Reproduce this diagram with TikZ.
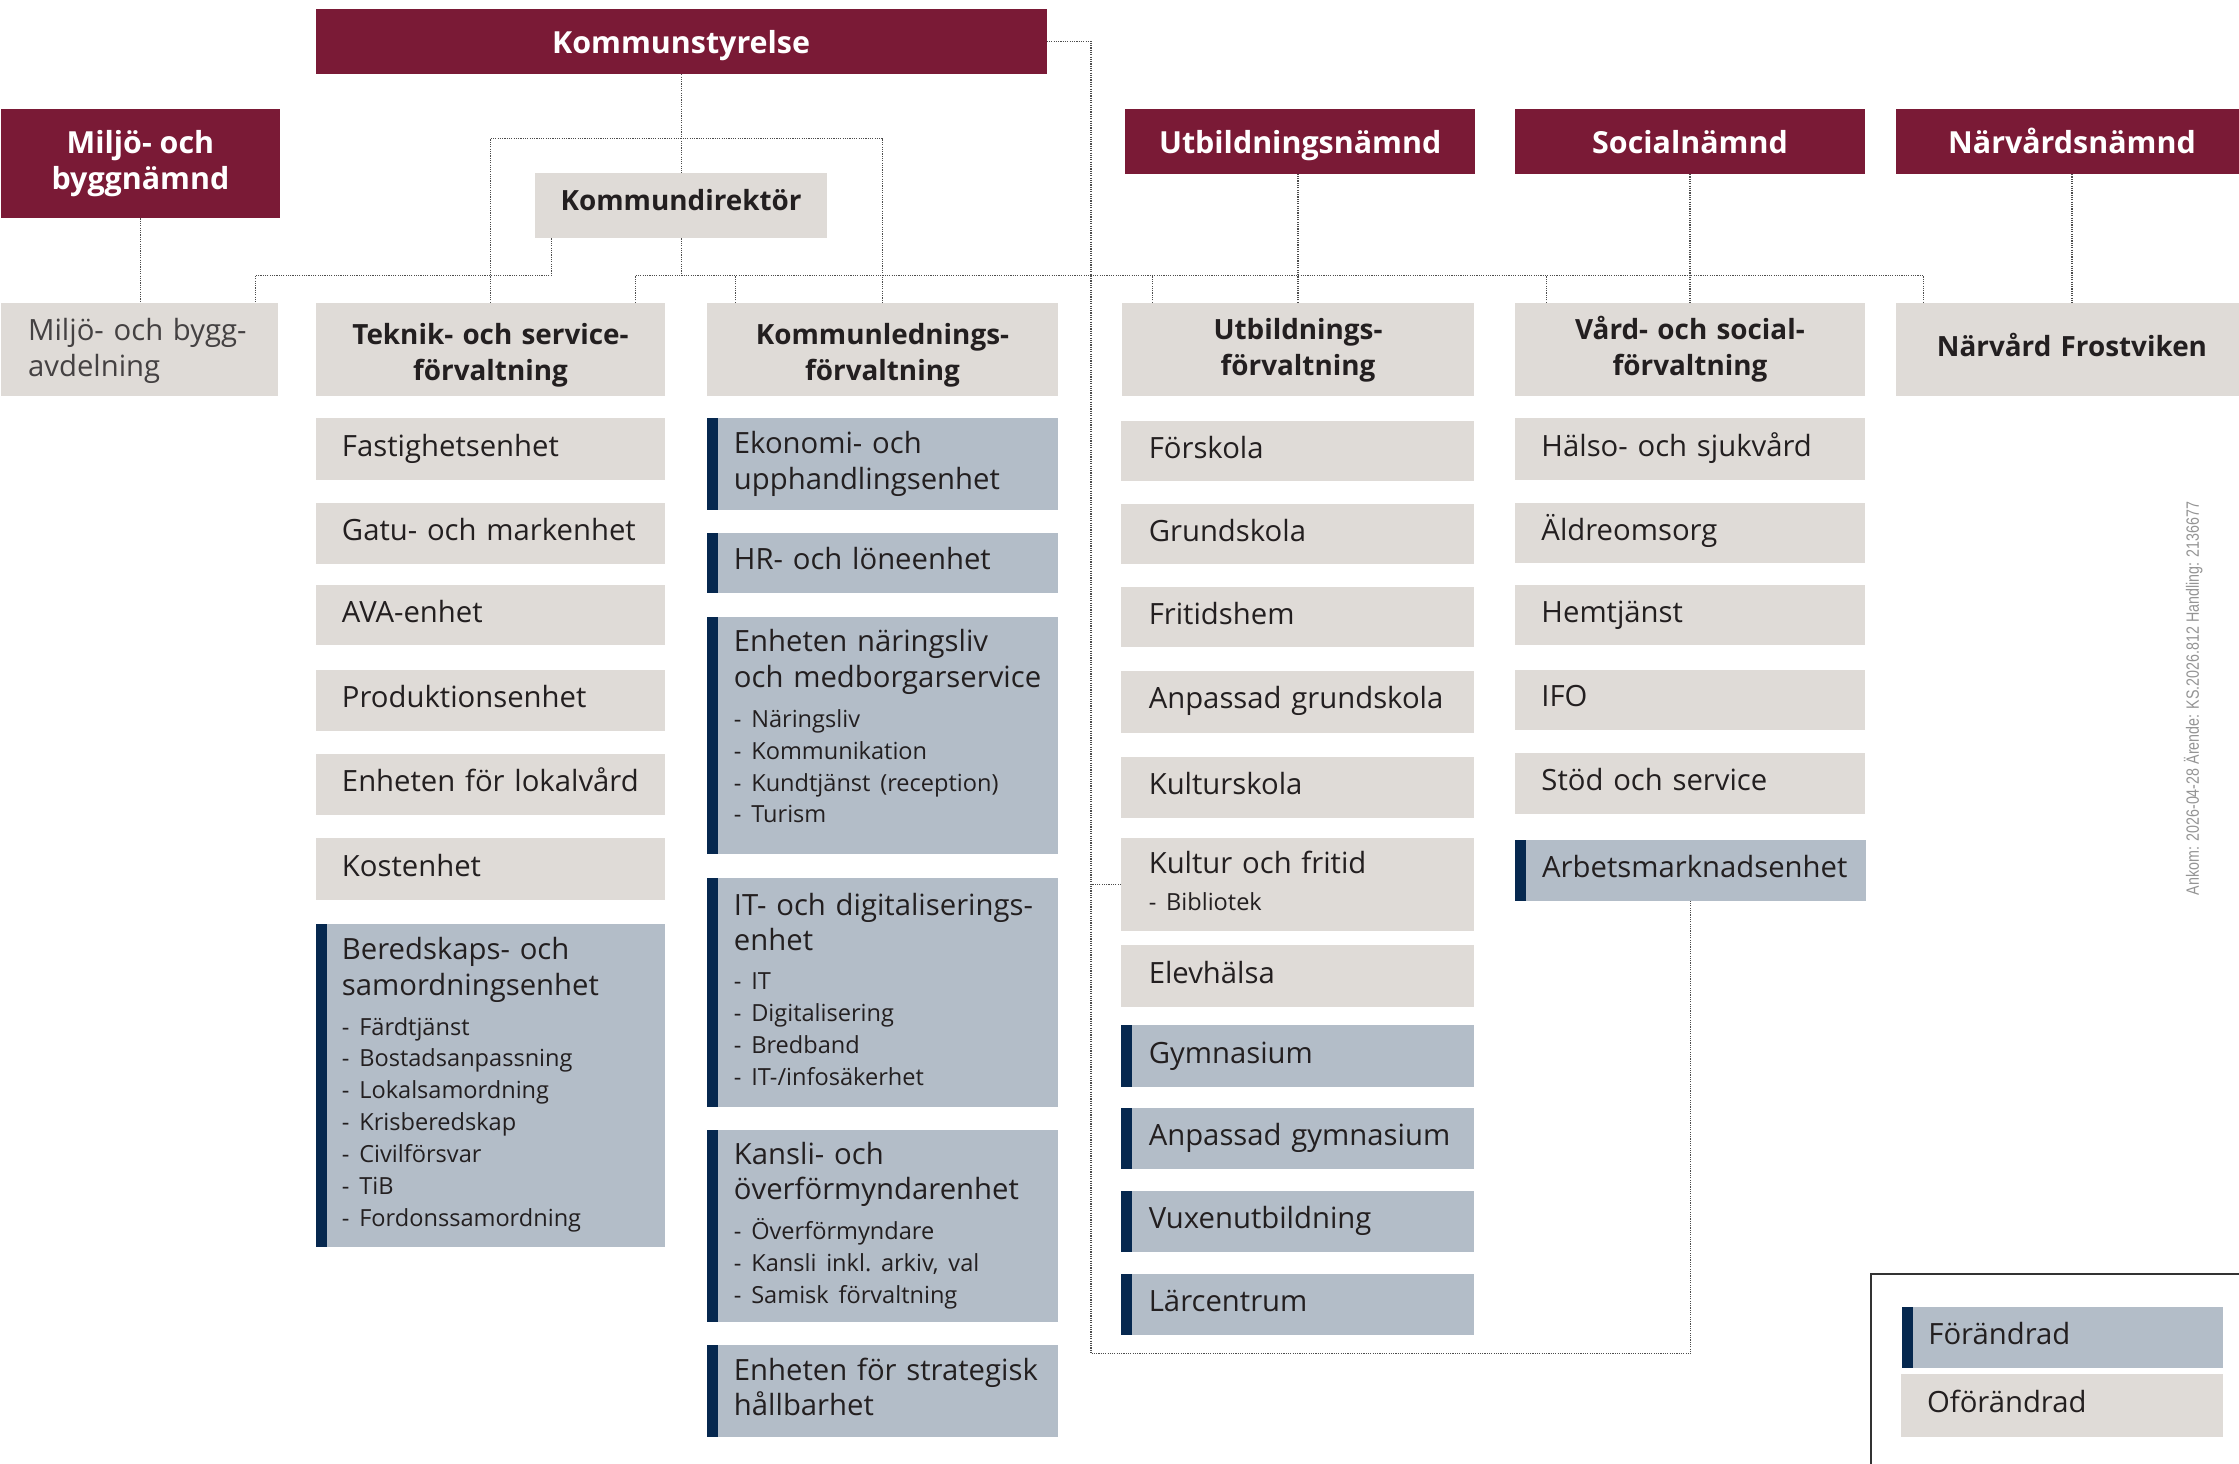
\documentclass[tikz,border=0pt]{standalone}
\usepackage{fontspec}
\setmainfont{Open Sans}
\newfontfamily\wmfont[FakeStretch=0.8]{Liberation Sans}
\definecolor{ksred}{HTML}{7A1A36}
\definecolor{boxgray}{HTML}{DFDBD7}
\definecolor{boxblue}{HTML}{B3BDC8}
\definecolor{barblue}{HTML}{06284F}
\definecolor{txt}{HTML}{231F20}
\definecolor{lineg}{HTML}{4D4D4D}
\newcommand{\fmain}{\fontsize{20.5}{25}\selectfont}
\newcommand{\fsub}{\fontsize{16.5}{22.3}\selectfont}
\newcommand{\fhead}{\fontsize{19.5}{25}\selectfont\bfseries}
\newcommand{\fboard}{\fontsize{21.3}{25}\selectfont\bfseries}
% explicit struts
\newcommand{\stm}{\rule[-7.5pt]{0pt}{25pt}}
\newcommand{\topst}[1]{\rule{0pt}{#1}}
\newcommand{\mainend}{\rule[-7.5pt]{0pt}{0pt}}
\newcommand{\subend}{\rule[-6.7pt]{0pt}{0pt}\par}
\tikzset{
  base/.style={anchor=north west, inner ysep=0pt, outer sep=0pt, text=txt},
  board/.style={base, fill=ksred, text=white, font=\fboard, align=center, inner xsep=4pt},
  office/.style={base, fill=boxgray, font=\fhead, align=center, inner xsep=0pt, text width=#1, minimum width=#1, minimum height=65pt},
  unitg/.style={base, fill=boxgray, font=\fmain, align=left, inner xsep=18.5pt, text width=208pt, minimum width=245pt},
  unitb/.style={unitg, fill=boxblue, path picture={\fill[barblue] (path picture bounding box.north west) rectangle ([xshift=8pt]path picture bounding box.south west);}},
  conn/.style={draw=lineg, line width=0.8pt, dash pattern=on 0.8pt off 0.8pt},
}
\begin{document}
\begin{tikzpicture}[x=1pt, y=-1pt]
\useasboundingbox (0,0) rectangle (1568,1025);
% ---------- boards ----------
\node[board, minimum width=512pt, minimum height=46pt, text height=17.5pt, text depth=0.5pt] (ks) at (221,6) {Kommunstyrelse};
\node[board, minimum width=195.3pt, minimum height=77pt] (mbn) at (0.7,76) {Miljö- och\\byggnämnd};
\node[board, minimum width=245pt, minimum height=46pt, text height=17.5pt, text depth=0.5pt] (un) at (788,76) {Utbildningsnämnd};
\node[board, minimum width=245pt, minimum height=46pt, text height=17.5pt, text depth=0.5pt] (sn) at (1061,76) {Socialnämnd};
\node[board, minimum width=246pt, minimum height=46pt, text height=17.5pt, text depth=0.5pt] (nn) at (1328,76) {Närvårdsnämnd};
\node[base, fill=boxgray, font=\fhead, minimum width=204pt, minimum height=46pt] (kd) at (375,121) {\rule[-9.5pt]{0pt}{25.5pt}Kommundirektör};
% ---------- förvaltningar ----------
\node[unitg, text width=156pt, minimum width=194pt, minimum height=65pt, inner xsep=19pt, text=txt!85] (mba) at (0.7,212) {\topst{20.5pt}\mbox{Miljö- och bygg-}\\avdelning\mainend};
\node[office=245pt] (tsf) at (221,212) {\topst{26.5pt}Teknik- och service-\\förvaltning\mainend};
\node[office=246pt] (klf) at (495,212) {\topst{26.5pt}Kommunlednings-\\förvaltning\mainend};
\node[office=246pt] (uf) at (786,212) {\topst{19.5pt}Utbildnings-\\förvaltning\mainend};
\node[office=245pt] (vsf) at (1061,212) {\topst{19.5pt}Vård- och social-\\förvaltning\mainend};
\node[office=246pt] (nf) at (1328,212) {\stm Närvård Frostviken};
% ---------- Teknik ----------
\node[unitg, minimum height=43pt] (t1) at (221,293) {\stm Fastighetsenhet};
\node[unitg, minimum height=43pt] (t2) at (221,352) {\stm\mbox{Gatu- och markenhet}};
\node[unitg, minimum height=42pt] (t3) at (221,410) {\stm AVA-enhet};
\node[unitg, minimum height=43pt] (t4) at (221,469) {\stm Produktionsenhet};
\node[unitg, minimum height=43pt] (t5) at (221,528) {\stm\mbox{Enheten för lokalvård}};
\node[unitg, minimum height=43pt] (t6) at (221,587) {\stm Kostenhet};
\node[unitb, minimum height=226pt] (t7) at (221,647) {\topst{17.5pt}Beredskaps- och\\samordningsenhet\par\vspace{5.5pt}\fsub - Färdtjänst\\- Bostadsanpassning\\- Lokalsamordning\\- Krisberedskap\\- Civilförsvar\\- TiB\\- Fordonssamordning\subend};
% ---------- Kommunledning ----------
\node[unitb, minimum width=246pt, minimum height=64pt] (k1) at (495,293) {\topst{17.5pt}Ekonomi- och\\upphandlingsenhet\mainend};
\node[unitb, minimum width=246pt, minimum height=42pt] (k2) at (495,373) {\stm HR- och löneenhet};
\node[unitb, minimum width=246pt, minimum height=166pt] (k3) at (495,432) {\topst{17.5pt}Enheten näringsliv\\\mbox{och medborgarservice}\par\vspace{5.5pt}\fsub - Näringsliv\\- Kommunikation\\\mbox{- Kundtjänst (reception)}\\- Turism\rule[-14.7pt]{0pt}{0pt}\par};
\node[unitb, minimum width=246pt, minimum height=160pt] (k4) at (495,615) {\topst{17.5pt}\mbox{IT- och digitaliserings-}\\enhet\par\vspace{5pt}\fsub - IT\\- Digitalisering\\- Bredband\\- IT-/infosäkerhet\subend};
\node[unitb, minimum width=246pt, minimum height=135pt] (k5) at (495,791) {\topst{17.5pt}Kansli- och\\\mbox{överförmyndarenhet}\par\vspace{5.5pt}\fsub - Överförmyndare\\\mbox{- Kansli inkl.\ arkiv, val}\\- Samisk förvaltning\subend};
\node[unitb, minimum width=246pt, minimum height=64pt] (k6) at (495,942) {\topst{17.5pt}\mbox{Enheten för strategisk}\\hållbarhet\mainend};
% ---------- Utbildning ----------
\node[unitg, minimum width=247pt, minimum height=42pt] (u1) at (785,295) {\stm Förskola};
\node[unitg, minimum width=247pt, minimum height=42pt] (u2) at (785,353) {\stm Grundskola};
\node[unitg, minimum width=247pt, minimum height=42pt] (u3) at (785,411) {\stm Fritidshem};
\node[unitg, minimum width=247pt, minimum height=43pt] (u4) at (785,470) {\stm\mbox{Anpassad grundskola}};
\node[unitg, minimum width=247pt, minimum height=43pt] (u5) at (785,530) {\stm Kulturskola};
\node[unitg, minimum width=247pt, minimum height=65pt] (kf) at (785,587) {\topst{17.5pt}Kultur och fritid\par\vspace{3.5pt}\fsub - Bibliotek\subend};
\node[unitg, minimum width=247pt, minimum height=43pt] (u7) at (785,662) {\stm Elevhälsa};
\node[unitb, minimum width=247pt, minimum height=43pt] (u8) at (785,718) {\stm Gymnasium};
\node[unitb, minimum width=247pt, minimum height=43pt] (u9) at (785,776) {\stm\mbox{Anpassad gymnasium}};
\node[unitb, minimum width=247pt, minimum height=43pt] (u10) at (785,834) {\stm Vuxenutbildning};
\node[unitb, minimum width=247pt, minimum height=43pt] (u11) at (785,892) {\stm Lärcentrum};
% ---------- Vård och social ----------
\node[unitg, minimum height=43pt] (s1) at (1061,293) {\stm\mbox{Hälso- och sjukvård}};
\node[unitg, minimum height=42pt] (s2) at (1061,352) {\stm Äldreomsorg};
\node[unitg, minimum height=42pt] (s3) at (1061,410) {\stm Hemtjänst};
\node[unitg, minimum height=42pt] (s4) at (1061,469) {\stm IFO};
\node[unitg, minimum height=43pt] (s5) at (1061,527) {\stm Stöd och service};
\node[unitb, minimum width=246pt, minimum height=43pt] (arb) at (1061,588) {\stm\mbox{Arbetsmarknadsenhet}};
% ---------- connectors ----------
\draw[conn] (ks.south) -- (kd.north);
\draw[conn] (tsf.north) -- ++(0,-115) -| (klf.north);
\draw[conn] ([xshift=11pt]kd.south west) -- ++(0,26) -| ([xshift=-16pt]mba.north east);
\draw[conn] (kd.south) -- ++(0,26);
\draw[conn] ([xshift=-21pt]tsf.north east) -- ++(0,-19) -| ([xshift=19pt]nf.north west);
\draw[conn] ([xshift=20pt]klf.north west) -- ++(0,-19);
\draw[conn] ([xshift=21pt]uf.north west) -- ++(0,-19);
\draw[conn] ([xshift=22pt]vsf.north west) -- ++(0,-19);
\draw[conn] (mbn.south) -- (mbn.south |- mba.north);
\draw[conn] (uf.north) -- (uf.north |- un.south);
\draw[conn] (sn.south) -- (sn.south |- vsf.north);
\draw[conn] (nn.south) -- (nn.south |- nf.north);
\coordinate (cb) at (764,948);
\draw[conn] (ks.east) -| (cb) -| (arb.south);
\draw[conn] (kf.west) -- (kf.west -| cb);
% ---------- legend ----------
\draw[line width=1.3pt, draw=black!80] (1310,1032) -- (1310,892) -- (1575,892);
\node[unitb, text width=188pt, minimum width=225pt, minimum height=43pt] (lg1) at (1332,915) {\stm Förändrad};
\node[unitg, text width=189pt, minimum width=226pt, minimum height=44pt] (lg2) at (1331,962) {\stm Oförändrad};
% ---------- stamp ----------
\node[rotate=90, font=\wmfont\fontsize{12.5}{14}\selectfont, text=black!42] (wm) at (1536,489) {Ankom: 2026-04-28 Ärende: KS.2026.812 Handling: 2136677};
\end{tikzpicture}
\end{document}
